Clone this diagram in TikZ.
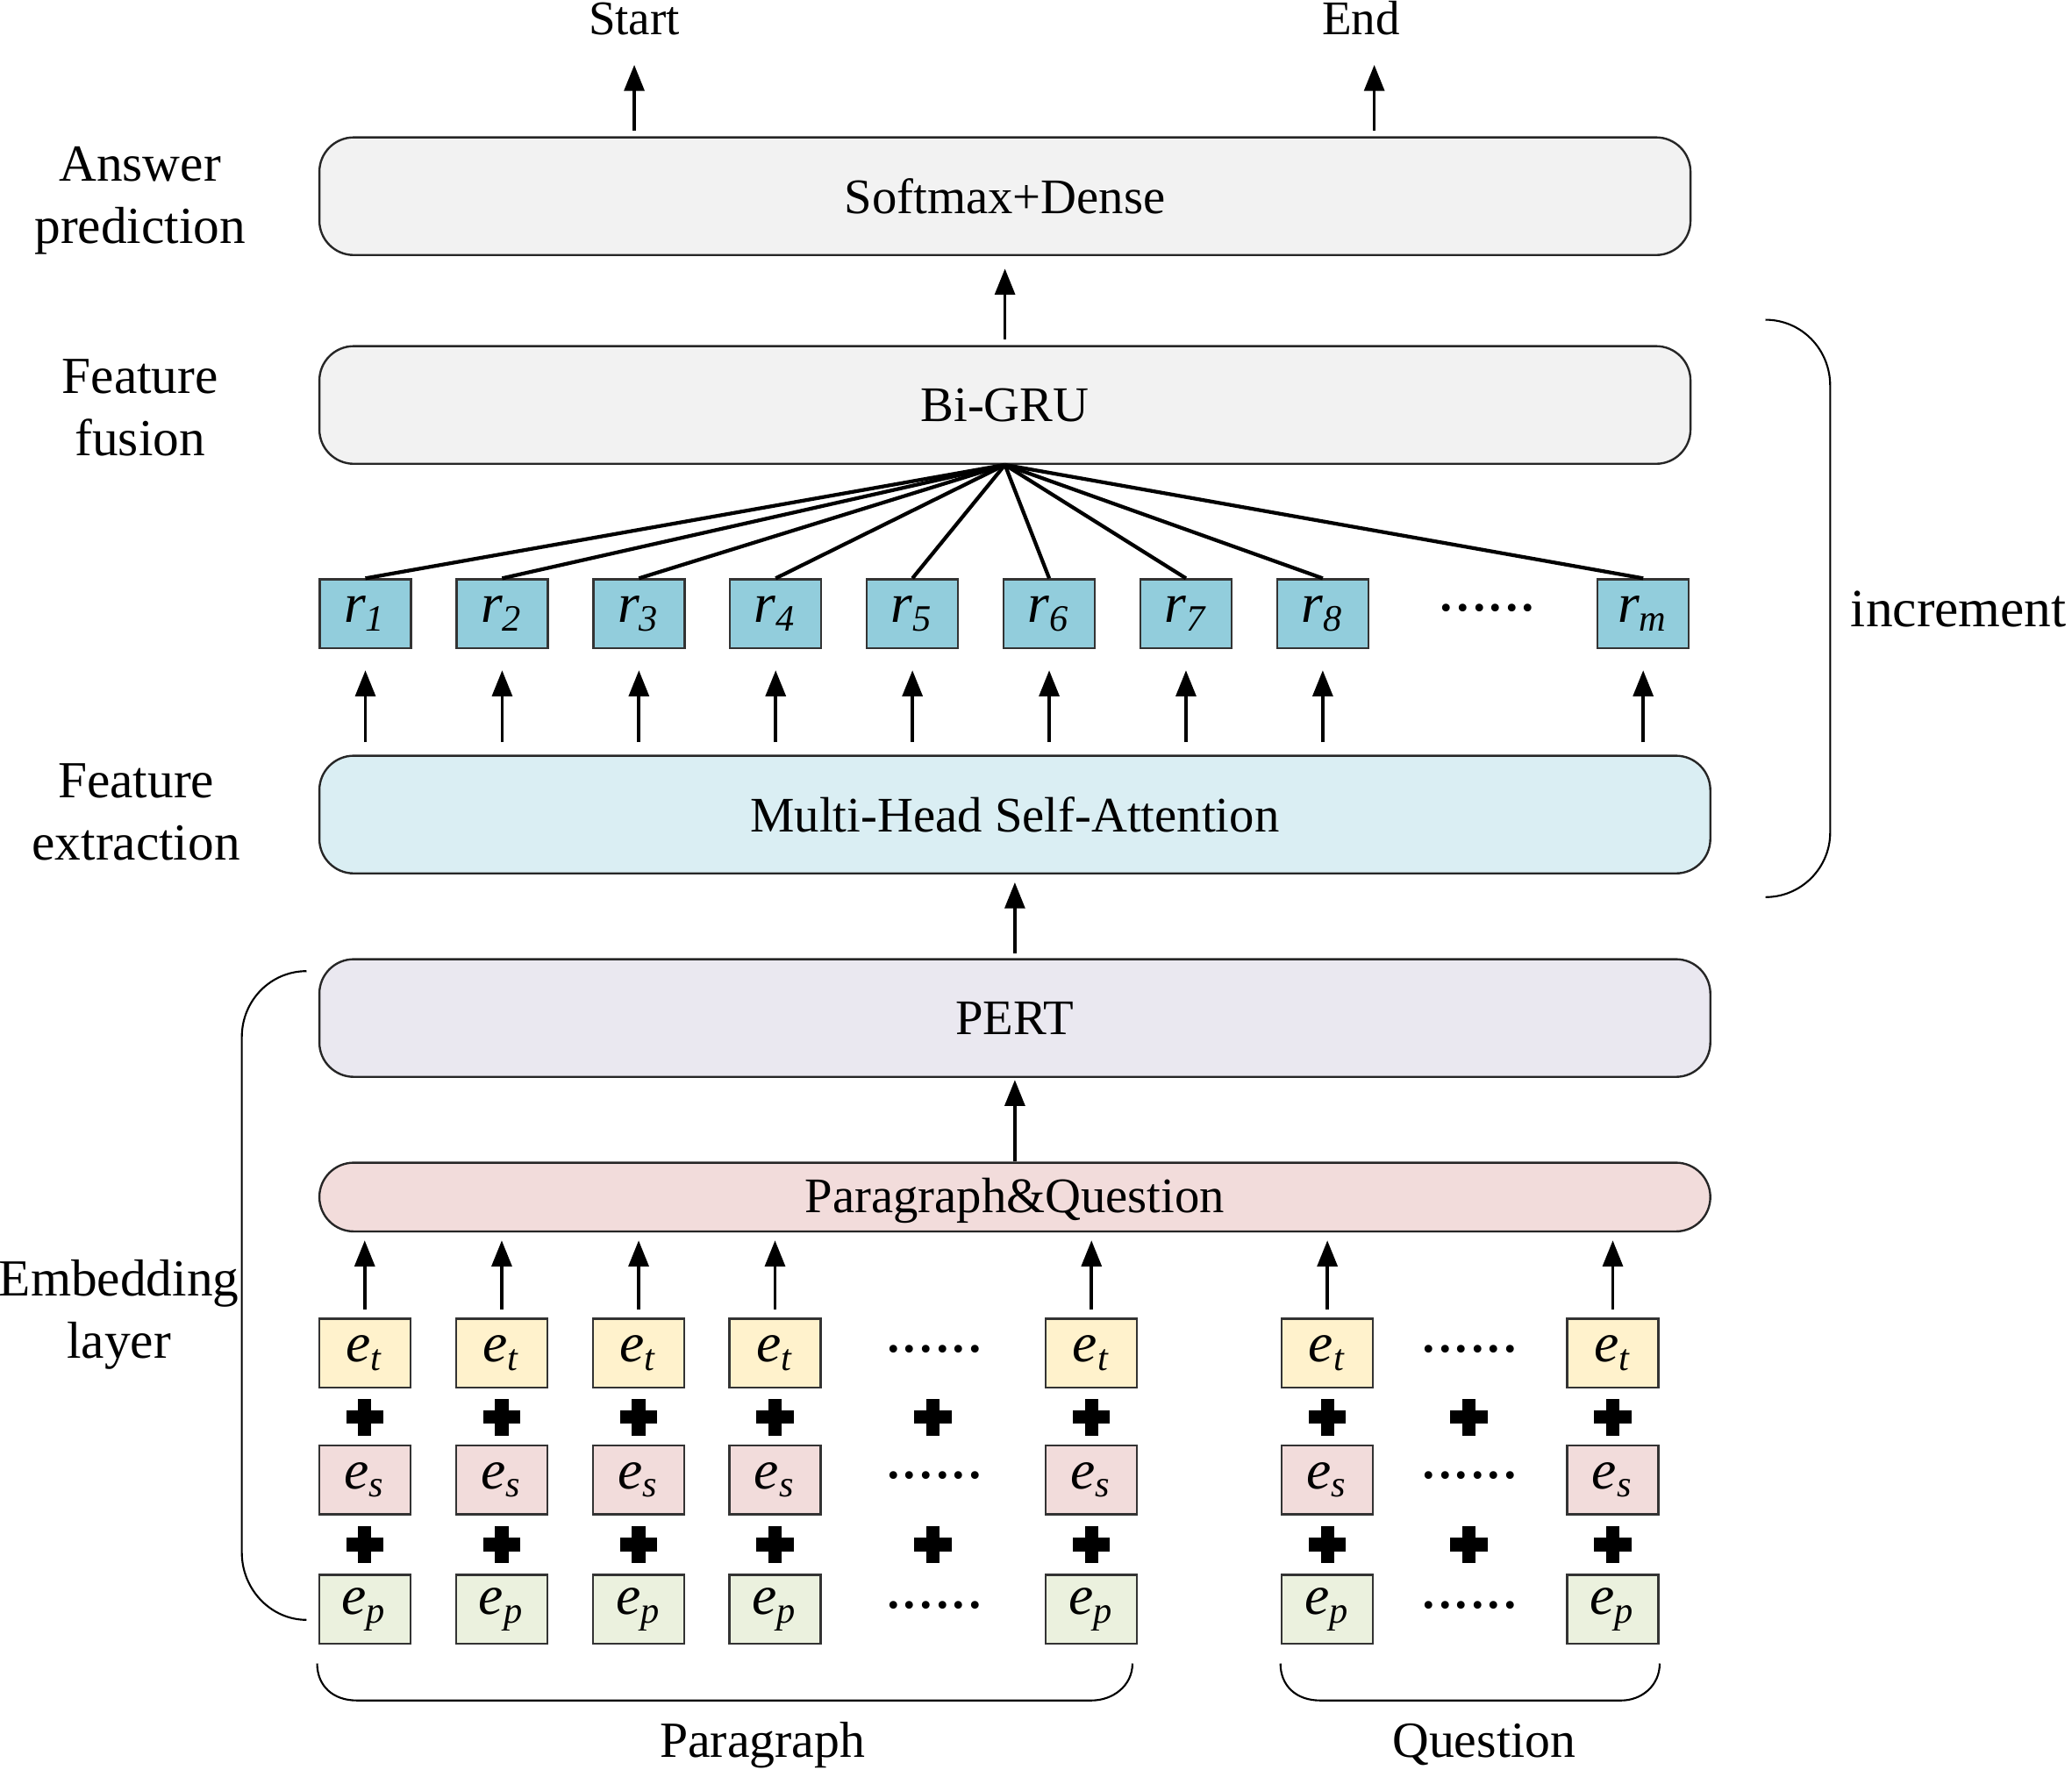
\documentclass[tikz,border=0pt]{standalone}
\usepackage{fontspec}
\setmainfont{Liberation Serif}
\usetikzlibrary{arrows.meta}
\definecolor{graybox}{HTML}{F2F2F2}
\definecolor{mhsacol}{HTML}{DAEEF3}
\definecolor{pertcol}{HTML}{EAE8F0}
\definecolor{pqcol}{HTML}{F2DCDB}
\definecolor{rcol}{HTML}{92CDDC}
\definecolor{etcol}{HTML}{FFF2CC}
\definecolor{escol}{HTML}{F2DCDB}
\definecolor{epcol}{HTML}{EBF1DE}
\tikzset{
 bigbox/.style={draw=black!85, line width=0.45pt, rounded corners=0.26cm, minimum height=0.89cm, inner sep=0pt, font=\fontsize{10.7}{12}\selectfont},
 cell/.style={draw=black!80, line width=0.45pt, minimum width=0.69cm, minimum height=0.52cm, inner sep=0pt, font=\fontsize{12}{14}\selectfont\itshape},
 arr/.style={line width=0.7pt, -{Triangle[width=4.3pt,length=5.6pt]}},
 fan/.style={line width=0.8pt},
 lbl/.style={align=center, inner sep=0pt, font=\fontsize{11.2}{13.5}\selectfont},
 brk/.style={line width=0.4pt},
 dotrow/.style={inner sep=0pt, font=\fontsize{14}{15}\selectfont},
 outlbl/.style={anchor=base, inner sep=0pt, font=\fontsize{10.4}{12}\selectfont},
 pics/heavyplus/.style={code={
   \fill (-0.14cm,-0.05cm) rectangle (0.14cm,0.05cm);
   \fill (-0.05cm,-0.14cm) rectangle (0.05cm,0.14cm);}},
}
\begin{document}
\begin{tikzpicture}[x=0.01cm,y=-0.01cm]
\useasboundingbox (0,0) rectangle (1568,1339);

% side labels
\node[lbl] (lab1) at (106,152) {Answer\\prediction};
\node[lbl] (lab2) at (106,308.5) {Feature\\fusion};
\node[lbl] (lab3) at (103,614.5) {Feature\\extraction};
\node[lbl] (lab4) at (90,995) {Embedding\\layer};

% outputs
\node[outlbl] (start) at (480,26) {Start};
\node[outlbl] (end) at (1030,26) {End};
\coordinate (endarr) at ([xshift=0.1cm]end.south);

% main layers
\node[bigbox, fill=graybox, minimum width=10.37cm] (soft) at (760.5,148.5) {Softmax+Dense};
\node[bigbox, fill=graybox, minimum width=10.37cm] (gru) at (760.5,306.5) {Bi-GRU};
\node[bigbox, fill=mhsacol, minimum width=10.52cm] (mhsa) at (768,616.5) {Multi-Head Self-Attention};
\node[bigbox, fill=pertcol, minimum width=10.52cm] (pert) at (768,770.5) {PERT};
\node[bigbox, fill=pqcol, minimum width=10.52cm, minimum height=0.52cm, text height=9pt, text depth=2.35pt] (pq) at (768,906) {Paragraph\&Question};

% output arrows
\draw[arr, shorten <=0.04cm, shorten >=0.22cm] (soft.north -| start) -- (start.south);
\draw[arr, shorten <=0.04cm, shorten >=0.22cm] (soft.north -| endarr) -- (endarr);
\draw[arr, shorten <=0.045cm, shorten >=0.095cm] (gru.north) -- (soft.south);
\draw[arr, shorten <=0.036cm, shorten >=0.06cm] (pert.north) -- (mhsa.south);
\draw[arr, shorten >=0.015cm] (pq.north) -- (pert.south);

% r boxes
\foreach \n/\x in {1/276.5,2/380,3/483.5,4/587,5/690.5,6/794,7/897.5,8/1001,m/1243.5}{
  \node[cell, fill=rcol] (r\n) at (\x,464.5) {r\textsubscript{\n}};
  \draw[fan] (gru.south) -- (r\n.north);
  \draw[arr, shorten <=0.095cm, shorten >=0.16cm] (r\n |- mhsa.north) -- (r\n.south);
}
\node[dotrow] (rdots) at (1125.6,460) {......};

% embedding cells
\foreach \n/\x in {1/276,2/379.7,3/483.3,4/586.5,5/826,6/1004.5,7/1220.5}{
  \node[cell, fill=etcol] (et\n) at (\x,1024) {e\textsubscript{t}};
  \node[cell, fill=escol] (es\n) at (\x,1120) {e\textsubscript{s}};
  \node[cell, fill=epcol] (ep\n) at (\x,1218) {e\textsubscript{p}};
  \draw[arr, shorten <=0.06cm, shorten >=0.06cm] (et\n.north) -- (et\n.north |- pq.south);
}
\foreach \x in {276,379.7,483.3,586.5,706,826,1004.5,1111.6,1220.5}{
  \pic at (\x,1072.6) {heavyplus};
  \pic at (\x,1169) {heavyplus};
}
\node[dotrow] (pdt) at (707,1021) {......};
\node[dotrow] (pds) at (707,1117) {......};
\node[dotrow] (pdp) at (707,1215) {......};
\node[dotrow] (qdt) at (1112,1021) {......};
\node[dotrow] (qds) at (1112,1117) {......};
\node[dotrow] (qdp) at (1112,1215) {......};

% braces
\draw[brk] (240,1259) .. controls (240,1276) and (252,1287) .. (270,1287) -- (826,1287) .. controls (842,1287) and (857,1276) .. (857,1259);
\draw[brk] (969,1259) .. controls (969,1276) and (981,1287) .. (999,1287) -- (1227,1287) .. controls (1242,1287) and (1256,1276) .. (1256,1259);
\node[outlbl, font=\fontsize{10.9}{12}\selectfont] (para) at (577,1330) {Paragraph};
\node[outlbl, font=\fontsize{10.9}{12}\selectfont] (ques) at (1123,1330) {Question};

\draw[brk] (232,735) .. controls (205,735) and (183,757) .. (183,785) -- (183,1175) .. controls (183,1203) and (205,1226) .. (232,1226);
\draw[brk] (1336,242) .. controls (1363,242) and (1385,264) .. (1385,292) -- (1385,630) .. controls (1385,657) and (1363,679) .. (1336,679);
\node[anchor=base west, inner sep=0pt, font=\fontsize{11.6}{13}\selectfont] (incr) at (1400,474) {increment};
\end{tikzpicture}
\end{document}
